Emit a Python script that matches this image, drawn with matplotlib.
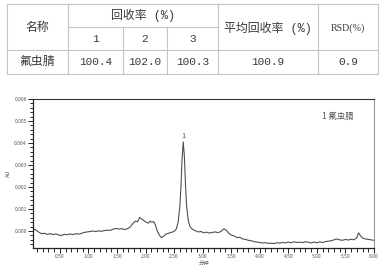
import matplotlib
matplotlib.use("Agg")
import matplotlib.pyplot as plt
from matplotlib.ticker import MultipleLocator, FormatStrFormatter

plt.rcParams['font.family'] = ['Noto Sans CJK SC', 'DejaVu Sans']

# ---------------- data ----------------
table_header_top = ["名称", "回收率 (%)", "平均回收率 (%)", "RSD(%)"]
table_header_sub = ["1", "2", "3"]
compound = "氟虫腈"
recoveries = ["100.4", "102.0", "100.3"]
mean_recovery = "100.9"
rsd = "0.9"

time_min = [0.03, 0.08, 0.13, 0.18, 0.23, 0.28, 0.33, 0.38, 0.43, 0.48,
            0.53, 0.58, 0.63, 0.68, 0.73, 0.78, 0.83, 0.88, 0.93, 0.98,
            1.03, 1.08, 1.13, 1.18, 1.23, 1.28, 1.33, 1.38, 1.43, 1.48,
            1.53, 1.58, 1.63, 1.68, 1.73, 1.78, 1.82, 1.86, 1.90, 1.93,
            1.97, 2.01, 2.05, 2.08, 2.11, 2.14, 2.17, 2.20, 2.24, 2.28,
            2.31, 2.35, 2.40, 2.45, 2.50, 2.54, 2.57, 2.60, 2.62, 2.64,
            2.66, 2.68, 2.70, 2.72, 2.75, 2.78, 2.82, 2.87, 2.92, 2.97,
            3.02, 3.07, 3.12, 3.17, 3.22, 3.27, 3.32, 3.37, 3.41, 3.45,
            3.50, 3.55, 3.60, 3.65, 3.70, 3.75, 3.80, 3.85, 3.90, 3.95,
            4.00, 4.05, 4.10, 4.15, 4.20, 4.25, 4.30, 4.35, 4.40, 4.45,
            4.50, 4.55, 4.60, 4.65, 4.70, 4.75, 4.80, 4.85, 4.90, 4.95,
            5.00, 5.05, 5.10, 5.15, 5.20, 5.25, 5.30, 5.35, 5.40, 5.45,
            5.50, 5.55, 5.60, 5.65, 5.70, 5.73, 5.76, 5.80, 5.85, 5.90,
            5.95, 6.00]
absorbance = [0.00010, 0.00005, -0.00005, -0.00012, -0.00010, -0.00015, -0.00012, -0.00016, -0.00013, -0.00018,
              -0.00020, -0.00015, -0.00017, -0.00013, -0.00016, -0.00012, -0.00014, -0.00010, -0.00006, -0.00004,
              -0.00002, 0.00000, -0.00002, 0.00001, -0.00001, 0.00002, 0.00004, 0.00003, 0.00008, 0.00012,
              0.00009, 0.00011, 0.00007, 0.00010, 0.00018, 0.00035, 0.00045, 0.00042, 0.00062, 0.00055,
              0.00048, 0.00040, 0.00036, 0.00045, 0.00040, 0.00043, 0.00030, 0.00005, -0.00018, -0.00030,
              -0.00025, -0.00015, -0.00010, -0.00006, -0.00002, 0.00010, 0.00040, 0.00110, 0.00200, 0.00330,
              0.00405, 0.00340, 0.00210, 0.00110, 0.00045, 0.00020, 0.00008, 0.00002, -0.00004, -0.00002,
              -0.00008, -0.00005, -0.00009, -0.00006, -0.00004, -0.00007, -0.00002, 0.00010, 0.00005, -0.00008,
              -0.00018, -0.00022, -0.00030, -0.00028, -0.00036, -0.00038, -0.00042, -0.00044, -0.00048, -0.00050,
              -0.00052, -0.00054, -0.00053, -0.00056, -0.00055, -0.00057, -0.00053, -0.00055, -0.00052, -0.00054,
              -0.00050, -0.00053, -0.00049, -0.00052, -0.00050, -0.00053, -0.00048, -0.00051, -0.00054, -0.00050,
              -0.00053, -0.00049, -0.00052, -0.00048, -0.00046, -0.00044, -0.00040, -0.00036, -0.00040, -0.00042,
              -0.00038, -0.00041, -0.00037, -0.00040, -0.00030, -0.00008, -0.00020, -0.00032, -0.00036, -0.00038,
              -0.00040, -0.00042]
peak_label = "1"
legend_text = "1 氟虫腈"
x_label = "分钟"
y_label = "AU"

# ---------------- figure ----------------
W, H = 387, 271
fig = plt.figure(figsize=(W / 100, H / 100), dpi=100)

# table overlay axes in pixel coordinates
tab = fig.add_axes([0, 0, 1, 1])
tab.set_xlim(0, W)
tab.set_ylim(H, 0)
tab.axis('off')

col_x = [7, 68, 123, 167, 218, 318, 378]
row_y = [4, 27, 50, 74]
lc = '#c4c4c4'
lw = 0.8
for y in (row_y[0], row_y[2], row_y[3]):
    tab.plot([col_x[0], col_x[-1]], [y, y], color=lc, lw=lw)
tab.plot([col_x[1], col_x[4]], [row_y[1], row_y[1]], color=lc, lw=lw)
for x in (col_x[0], col_x[1], col_x[4], col_x[5], col_x[6]):
    tab.plot([x, x], [row_y[0], row_y[3]], color=lc, lw=lw)
for x in (col_x[2], col_x[3]):
    tab.plot([x, x], [row_y[1], row_y[3]], color=lc, lw=lw)

tc = '#3a3a3a'
fam = ['Liberation Mono', 'Noto Sans CJK SC']
kw_cjk = dict(ha='center', va='center', color=tc, family=fam, fontsize=8.6)
kw_num = dict(ha='center', va='center', color=tc, family=fam, fontsize=8.0)
mid_hdr = (row_y[0] + row_y[2]) / 2 + 1
tab.text((col_x[0] + col_x[1]) / 2, mid_hdr, table_header_top[0], **kw_cjk)
tab.text((col_x[1] + col_x[4]) / 2, (row_y[0] + row_y[1]) / 2, table_header_top[1], **kw_cjk)
tab.text((col_x[4] + col_x[5]) / 2, mid_hdr, table_header_top[2], **kw_cjk)
tab.text((col_x[5] + col_x[6]) / 2, mid_hdr, table_header_top[3],
         ha='center', va='center', color=tc, family=['Liberation Serif', 'Noto Sans CJK SC'], fontsize=7.2)
for i, s in enumerate(table_header_sub):
    tab.text((col_x[1 + i] + col_x[2 + i]) / 2, (row_y[1] + row_y[2]) / 2, s, **kw_num)
ry = (row_y[2] + row_y[3]) / 2
tab.text((col_x[0] + col_x[1]) / 2, ry, compound, **kw_cjk)
for i, s in enumerate(recoveries):
    tab.text((col_x[1 + i] + col_x[2 + i]) / 2, ry, s, **kw_num)
tab.text((col_x[4] + col_x[5]) / 2, ry, mean_recovery, **kw_num)
tab.text((col_x[5] + col_x[6]) / 2, ry, rsd, **kw_num)

# chromatogram axes
left, right, top, bottom = 33, 374, 99, 248
ax = fig.add_axes([left / W, 1 - bottom / H, (right - left) / W, (bottom - top) / H])
ax.plot(time_min, absorbance, color='#505050', lw=0.8)
ax.set_xlim(0.03, 6.0)
ax.set_ylim(-0.00077, 0.006)

ax.xaxis.set_major_locator(MultipleLocator(0.5))
ax.xaxis.set_minor_locator(MultipleLocator(0.1))
ax.yaxis.set_major_locator(MultipleLocator(0.001))
ax.yaxis.set_minor_locator(MultipleLocator(0.0002))
ax.xaxis.set_major_formatter(FormatStrFormatter('%.2f'))
ax.yaxis.set_major_formatter(FormatStrFormatter('%.3f'))
ax.tick_params(axis='both', which='both', direction='out', color='#222222', width=0.7,
               labelsize=3.6, labelcolor='#555555', pad=1)
ax.tick_params(axis='both', which='major', length=3.5)
ax.tick_params(axis='both', which='minor', length=2.2)
ax.tick_params(axis='x', which='minor', length=3)

for s in ('left', 'bottom'):
    ax.spines[s].set_color('#222222')
    ax.spines[s].set_linewidth(0.9)
ax.spines['top'].set_color('#333333')
ax.spines['top'].set_linewidth(0.8)
ax.spines['right'].set_color('#999999')
ax.spines['right'].set_linewidth(0.8)

ax.set_ylabel(y_label, fontsize=4, color='#555555', labelpad=2)
ax.set_xlabel(x_label, fontsize=3.8, color='#555555', labelpad=1.5)

ip = max(range(len(absorbance)), key=lambda i: absorbance[i])
ax.annotate(peak_label, xy=(time_min[ip], absorbance[ip]), xytext=(0, 1.5),
            textcoords='offset points', ha='center', va='bottom', fontsize=5.5, color='#555555')
ax.text(0.848, 0.88, legend_text, transform=ax.transAxes, ha='left', va='center',
        fontsize=6, color='#555555')

fig.savefig('out.png', dpi=100)
